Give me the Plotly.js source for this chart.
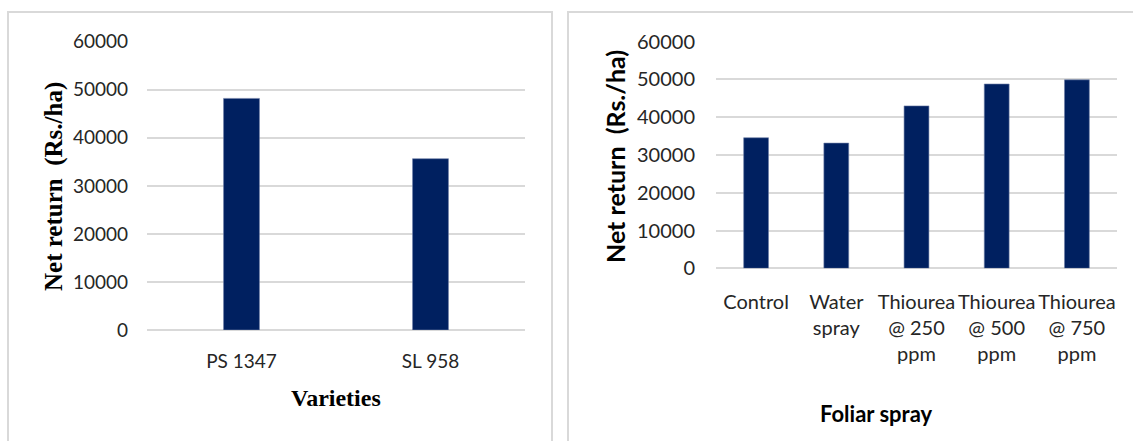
<!DOCTYPE html>
<html>
<head>
<meta charset="utf-8">
<script src="https://cdn.plot.ly/plotly-3.0.1.min.js"></script>
<style>html,body{margin:0;padding:0;background:#fff;}#chart{width:1133px;height:441px;}</style>
</head>
<body>
<div id="chart"></div>
<script>
// Data
const varieties = ["PS 1347", "SL 958"];
const varietyReturn = [48200, 35650];
const sprays = ["Control", "Water<br>spray", "Thiourea<br>@ 250<br>ppm", "Thiourea<br>@ 500<br>ppm", "Thiourea<br>@ 750<br>ppm"];
const sprayReturn = [34570, 33150, 43000, 48800, 49900];
const yTicks = [0, 10000, 20000, 30000, 40000, 50000, 60000];
const yTickLabels = ["0", "10000", "20000", "30000", "40000", "50000", "60000"];
const yTitle = "Net return  (Rs./ha)";
const xTitleLeft = "Varieties";
const xTitleRight = "Foliar spray";

const W = 1133, H = 441;
const px = v => v / W;
const py = v => 1 - v / H;

const barColor = "#002060";
const gridColor = "#d9d9d9";
const textColor = "#262626";

const traces = [
  {type: "bar", x: varieties, y: varietyReturn, xaxis: "x", yaxis: "y",
   marker: {color: barColor, line: {color: "#6f7fa8", width: 0.6}}, width: 0.19, hoverinfo: "x+y"},
  {type: "bar", x: sprays, y: sprayReturn, xaxis: "x2", yaxis: "y2",
   marker: {color: barColor, line: {color: "#6f7fa8", width: 0.6}}, width: 0.31, hoverinfo: "x+y"}
];

const yCommon = {
  range: [0, 60000], tickmode: "array", tickvals: yTicks, ticktext: yTickLabels,
  showgrid: true, gridcolor: gridColor, gridwidth: 2, zeroline: true, zerolinecolor: gridColor, zerolinewidth: 2,
  showline: false, ticks: "", fixedrange: true, color: textColor
};

const layout = {
  width: W, height: H,
  margin: {l: 0, r: 0, t: 0, b: 0},
  paper_bgcolor: "#ffffff", plot_bgcolor: "rgba(0,0,0,0)",
  showlegend: false, bargap: 0,
  xaxis: {domain: [px(147), px(525)], anchor: "y", showgrid: false, zeroline: false, showline: false, ticks: "",
          tickfont: {family: "Lato", size: 19, color: textColor}, ticklabelstandoff: 18, fixedrange: true},
  yaxis: Object.assign({}, yCommon, {domain: [py(330), py(41.7)], anchor: "x",
          tickfont: {family: "Lato", size: 19, color: textColor}, ticklabelstandoff: 18}),
  xaxis2: {domain: [px(716), px(1117)], anchor: "y2", showgrid: false, zeroline: false, showline: false, ticks: "",
          tickfont: {family: "Lato", size: 20, color: textColor}, ticklabelstandoff: 20, tickangle: 0, fixedrange: true},
  yaxis2: Object.assign({}, yCommon, {domain: [py(268.3), py(41.7)], anchor: "x2",
          tickfont: {family: "Lato", size: 20, color: textColor}, ticklabelstandoff: 20}),
  shapes: [
    {type: "path", xref: "paper", yref: "paper",
     path: `M ${px(8)} ${py(470)} L ${px(8)} ${py(12)} L ${px(552)} ${py(12)} L ${px(552)} ${py(470)}`,
     line: {color: gridColor, width: 2}},
    {type: "path", xref: "paper", yref: "paper",
     path: `M ${px(568)} ${py(470)} L ${px(568)} ${py(12)} L ${px(1160)} ${py(12)}`,
     line: {color: gridColor, width: 2}}
  ],
  annotations: [
    {text: yTitle, xref: "paper", yref: "paper", x: px(54), y: py(187), textangle: -90, showarrow: false,
     xanchor: "center", yanchor: "middle", font: {family: "Liberation Serif", size: 25, color: "#000000", weight: "bold"}},
    {text: xTitleLeft, xref: "paper", yref: "paper", x: px(336), y: py(398), showarrow: false,
     xanchor: "center", yanchor: "middle", font: {family: "Liberation Serif", size: 24, color: "#000000", weight: "bold"}},
    {text: yTitle, xref: "paper", yref: "paper", x: px(615), y: py(157), textangle: -90, showarrow: false,
     xanchor: "center", yanchor: "middle", font: {family: "Lato", size: 25, color: "#000000", weight: "bold"}},
    {text: xTitleRight, xref: "paper", yref: "paper", x: px(876), y: py(413), showarrow: false,
     xanchor: "center", yanchor: "middle", font: {family: "Lato", size: 22, color: "#000000", weight: "bold"}}
  ]
};

Plotly.newPlot("chart", traces, layout, {displayModeBar: false, staticPlot: true});
</script>
</body>
</html>
